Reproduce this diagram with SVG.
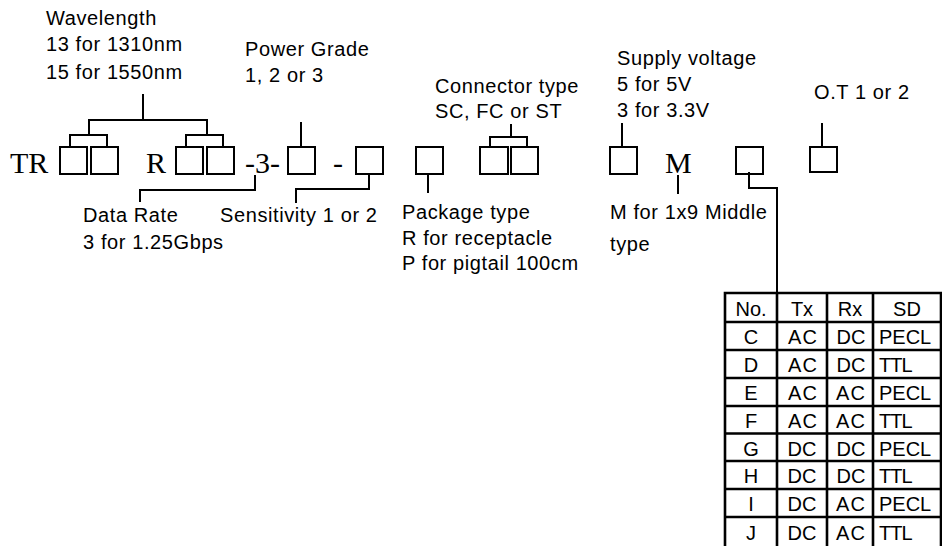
<svg xmlns="http://www.w3.org/2000/svg" width="942" height="546" viewBox="0 0 942 546">
<style>
.lbl{font-family:"Liberation Sans",Arial,sans-serif;font-size:20px;letter-spacing:0.6px;fill:#000}
.big{font-family:"Liberation Serif","Times New Roman",serif;font-size:30px;fill:#000}
.box{fill:none;stroke:#000;stroke-width:2}
.ln{fill:none;stroke:#000;stroke-width:2}
.tb{fill:none;stroke:#000;stroke-width:2.6}
.tt{font-family:"Liberation Sans",Arial,sans-serif;font-size:20px;fill:#000}
.c{text-anchor:middle}
</style>
<rect width="942" height="546" fill="#fff"/>
<g id="prefix">
<text class="big" x="10" y="173">TR</text>
<text class="big" x="146" y="173">R</text>
<text class="big" x="245" y="173">-3-</text>
<text class="big" x="333" y="173">-</text>
<text class="big" x="665" y="173">M</text>
</g>
<g id="box-wavelength">
<rect class="box" x="60" y="147" width="27" height="27"/>
<rect class="box" x="91" y="147" width="27" height="27"/>
<rect class="box" x="176" y="147" width="27" height="27"/>
<rect class="box" x="207" y="147" width="27" height="27"/>
</g>
<g id="box-power"><rect class="box" x="288" y="147" width="27" height="27"/></g>
<g id="box-sensitivity"><rect class="box" x="356" y="147" width="27" height="27"/></g>
<g id="box-package"><rect class="box" x="416" y="147" width="27" height="27"/></g>
<g id="box-connector">
<rect class="box" x="480" y="147" width="28" height="27"/>
<rect class="box" x="511" y="147" width="27" height="27"/>
</g>
<g id="box-supply"><rect class="box" x="610" y="147" width="27" height="27"/></g>
<g id="box-sd"><rect class="box" x="736" y="147" width="27" height="27"/></g>
<g id="box-ot"><rect class="box" x="810" y="147" width="27" height="25"/></g>
<g id="labels">
<text class="lbl" x="46" y="25">Wavelength</text>
<text class="lbl" x="46" y="51">13 for 1310nm</text>
<text class="lbl" x="46" y="79">15 for 1550nm</text>
<text class="lbl" x="245" y="56">Power Grade</text>
<text class="lbl" x="245" y="82">1, 2 or 3</text>
<text class="lbl" x="435" y="93">Connector type</text>
<text class="lbl" x="435" y="118">SC, FC or ST</text>
<text class="lbl" x="617" y="65">Supply voltage</text>
<text class="lbl" x="617" y="91">5 for 5V</text>
<text class="lbl" x="617" y="117">3 for 3.3V</text>
<text class="lbl" x="814" y="99">O.T 1 or 2</text>
<text class="lbl" x="83" y="222">Data Rate</text>
<text class="lbl" x="83" y="249">3 for 1.25Gbps</text>
<text class="lbl" x="220" y="222">Sensitivity 1 or 2</text>
<text class="lbl" x="402" y="219">Package type</text>
<text class="lbl" x="402" y="245">R for receptacle</text>
<text class="lbl" x="402" y="270">P for pigtail 100cm</text>
<text class="lbl" x="610" y="219">M for 1x9 Middle</text>
<text class="lbl" x="610" y="251">type</text>
</g>
<g id="connectors">
<path class="ln" d="M143,94V120M89,135V120H207V135M70,146V135H107V146M186,146V135H223V146"/>
<path class="ln" d="M255,175V190H140V202"/>
<path class="ln" d="M301,122V146"/>
<path class="ln" d="M369,174V189H296V203"/>
<path class="ln" d="M428,174V193"/>
<path class="ln" d="M511,124V137M490,146V137H527V146"/>
<path class="ln" d="M622,123V146"/>
<path class="ln" d="M678,175V194"/>
<path class="ln" d="M749,172V188H777V293"/>
<path class="ln" d="M822,123V146"/>
</g>
<g id="table">
<path class="tb" d="M725,548V293H941V548M777,293V548M827,293V548M873,293V548M725,322H941M725,350H941M725,378H941M725,406H941M725,433.5H941M725,461H941M725,489H941M725,517H941"/>
<text class="tt c" x="751" y="316">No.</text>
<text class="tt c" x="802" y="316">Tx</text>
<text class="tt c" x="850" y="316">Rx</text>
<text class="tt c" x="907" y="316">SD</text>
<g class="tt">
<text class="c" x="751" y="344">C</text><text class="c" x="803" y="344" letter-spacing="1">AC</text><text class="c" x="851" y="344">DC</text><text x="879" y="344">PECL</text>
<text class="c" x="751" y="372">D</text><text class="c" x="803" y="372" letter-spacing="1">AC</text><text class="c" x="851" y="372">DC</text><text x="879" y="372" letter-spacing="-1">TTL</text>
<text class="c" x="751" y="400">E</text><text class="c" x="803" y="400" letter-spacing="1">AC</text><text class="c" x="851" y="400" letter-spacing="1">AC</text><text x="879" y="400">PECL</text>
<text class="c" x="751" y="428">F</text><text class="c" x="803" y="428" letter-spacing="1">AC</text><text class="c" x="851" y="428" letter-spacing="1">AC</text><text x="879" y="428" letter-spacing="-1">TTL</text>
<text class="c" x="751" y="455.5">G</text><text class="c" x="802" y="455.5">DC</text><text class="c" x="851" y="455.5">DC</text><text x="879" y="455.5">PECL</text>
<text class="c" x="751" y="483">H</text><text class="c" x="802" y="483">DC</text><text class="c" x="851" y="483">DC</text><text x="879" y="483" letter-spacing="-1">TTL</text>
<text class="c" x="751" y="511">I</text><text class="c" x="802" y="511">DC</text><text class="c" x="851" y="511" letter-spacing="1">AC</text><text x="879" y="511">PECL</text>
<text class="c" x="751" y="540">J</text><text class="c" x="802" y="540">DC</text><text class="c" x="851" y="540" letter-spacing="1">AC</text><text x="879" y="540" letter-spacing="-1">TTL</text>
</g>
</g>
</svg>
